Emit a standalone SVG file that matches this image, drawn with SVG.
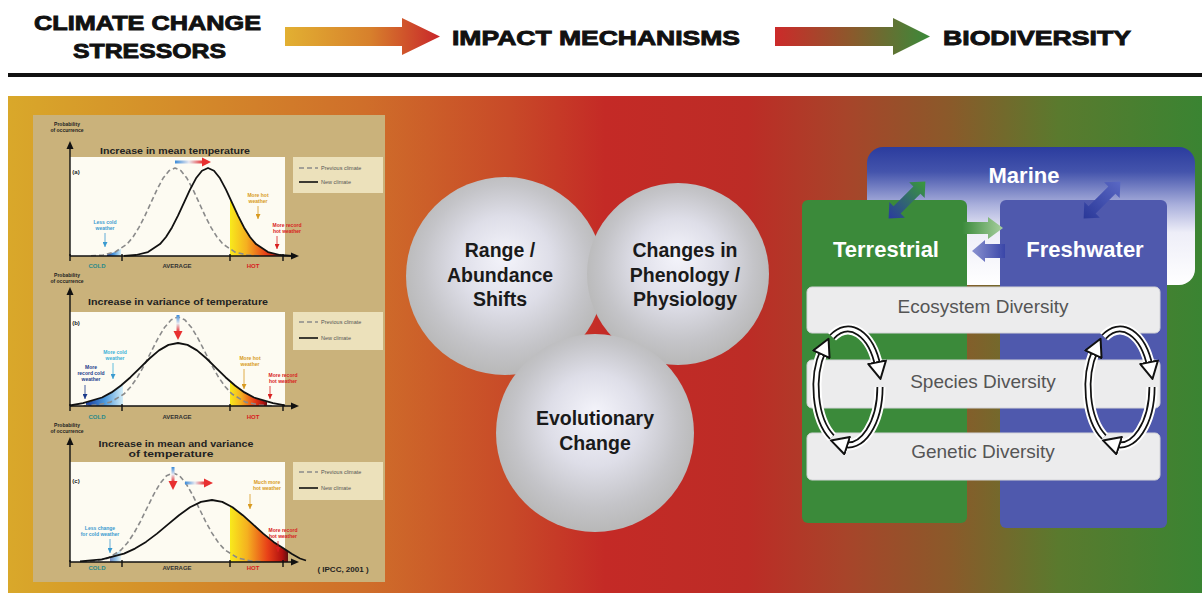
<svg xmlns="http://www.w3.org/2000/svg" width="1202" height="593" viewBox="0 0 1202 593">
<style>
.hdr{font-family:"Liberation Sans",Arial,sans-serif;font-weight:bold;font-size:21px;fill:#111;stroke:#111;stroke-width:0.9}
.ct{font-family:"Liberation Sans",Arial,sans-serif;font-weight:bold;font-size:8.5px;fill:#222;text-anchor:middle}
.pl{font-family:"Liberation Sans",Arial,sans-serif;font-weight:bold;font-size:5px;fill:#222;text-anchor:middle}
.ax{font-family:"Liberation Sans",Arial,sans-serif;font-weight:bold;font-size:6px;text-anchor:middle}
.ann{font-family:"Liberation Sans",Arial,sans-serif;font-weight:bold;font-size:5px;text-anchor:middle}
.lg{font-family:"Liberation Sans",Arial,sans-serif;font-size:5.5px;fill:#555}
.ball{font-family:"Liberation Sans",Arial,sans-serif;font-weight:bold;font-size:19.5px;fill:#1a1a1a;text-anchor:middle}
.box{font-family:"Liberation Sans",Arial,sans-serif;font-weight:bold;font-size:22px;fill:#fff;text-anchor:middle}
.strip{font-family:"Liberation Sans",Arial,sans-serif;font-size:19px;fill:#555;text-anchor:middle}
.prev{fill:none;stroke:#8a8a8a;stroke-width:1.6;stroke-dasharray:5 3;stroke-linejoin:round}
.new{fill:none;stroke:#111;stroke-width:1.8;stroke-linejoin:round}
.axis{stroke:#111;stroke-width:1.4;fill:none}
.plot{fill:#fdfbf2}
.leg{fill:#ece1bb}
.cyc-h{fill:none;stroke:#fff;stroke-width:11}
.cyc-b{fill:none;stroke:#111;stroke-width:7}
.cyc-w{fill:none;stroke:#fff;stroke-width:3.5}
.ballc{fill:url(#ball)}
.strp{fill:#ececed;stroke:#d4d4d8;stroke-width:1}
</style>
<defs>
<linearGradient id="bg" x1="0" y1="0" x2="1" y2="0">
<stop offset="0" stop-color="#d9a82a"/>
<stop offset="0.05" stop-color="#d79e2a"/>
<stop offset="0.3" stop-color="#cf6e2a"/>
<stop offset="0.42" stop-color="#c84a28"/>
<stop offset="0.5" stop-color="#c42a26"/>
<stop offset="0.62" stop-color="#bc2c26"/>
<stop offset="0.7" stop-color="#a8442a"/>
<stop offset="0.79" stop-color="#8a5a2a"/>
<stop offset="0.88" stop-color="#5a7a2e"/>
<stop offset="1" stop-color="#3a8432"/>
</linearGradient>
<linearGradient id="ar1" x1="0" y1="0" x2="1" y2="0">
<stop offset="0" stop-color="#e2b032"/>
<stop offset="0.55" stop-color="#d7802c"/>
<stop offset="1" stop-color="#c8262a"/>
</linearGradient>
<linearGradient id="ar2" x1="0" y1="0" x2="1" y2="0">
<stop offset="0" stop-color="#cc2a2a"/>
<stop offset="0.5" stop-color="#8a5a2c"/>
<stop offset="1" stop-color="#3a8a3a"/>
</linearGradient>
<linearGradient id="hot" x1="0" y1="0" x2="1" y2="0">
<stop offset="0" stop-color="#f8ea1c"/>
<stop offset="0.3" stop-color="#f5b020"/>
<stop offset="0.65" stop-color="#e84018"/>
<stop offset="0.9" stop-color="#b01010"/>
<stop offset="1" stop-color="#601010"/>
</linearGradient>
<linearGradient id="cold" x1="0" y1="0" x2="1" y2="0">
<stop offset="0" stop-color="#1a3a9a"/>
<stop offset="0.5" stop-color="#4a98dc"/>
<stop offset="1" stop-color="#d4eef8"/>
</linearGradient>
<linearGradient id="br" x1="0" y1="0" x2="1" y2="0">
<stop offset="0" stop-color="#3a8ad8"/>
<stop offset="0.5" stop-color="#e8e8f0"/>
<stop offset="1" stop-color="#e83030"/>
</linearGradient>
<linearGradient id="bv" x1="0" y1="0" x2="0" y2="1">
<stop offset="0" stop-color="#3a8ad8"/>
<stop offset="0.5" stop-color="#e8e8f0"/>
<stop offset="1" stop-color="#e83030"/>
</linearGradient>
<radialGradient id="ball" cx="50%" cy="47%" r="52%" fx="50%" fy="40%">
<stop offset="0" stop-color="#f4f4fb"/>
<stop offset="0.45" stop-color="#dedee8"/>
<stop offset="0.8" stop-color="#c4c4c8"/>
<stop offset="1" stop-color="#b9b9b9"/>
</radialGradient>
<linearGradient id="marine" x1="0" y1="0" x2="0" y2="1">
<stop offset="0" stop-color="#2b3c9e"/>
<stop offset="0.18" stop-color="#4454ac"/>
<stop offset="0.42" stop-color="#aab0dc"/>
<stop offset="0.62" stop-color="#eeeef8"/>
<stop offset="1" stop-color="#ffffff"/>
</linearGradient>
<linearGradient id="dgT" x1="0" y1="0" x2="1" y2="0">
<stop offset="0" stop-color="#2a3aa0"/>
<stop offset="1" stop-color="#3a9a3a"/>
</linearGradient>
<linearGradient id="dgF" x1="0" y1="0" x2="1" y2="0">
<stop offset="0" stop-color="#2a3898"/>
<stop offset="1" stop-color="#5a68c4"/>
</linearGradient>
<linearGradient id="gR" x1="0" y1="0" x2="1" y2="0">
<stop offset="0" stop-color="#3a8a3a"/>
<stop offset="1" stop-color="#a8d0a0"/>
</linearGradient>
<linearGradient id="bL" x1="0" y1="0" x2="1" y2="0">
<stop offset="0" stop-color="#8a92d0"/>
<stop offset="1" stop-color="#3a46a8"/>
</linearGradient>
<marker id="saB" markerWidth="5" markerHeight="5" viewBox="0 0 10 10" refX="10" refY="5" orient="auto" markerUnits="userSpaceOnUse"><path d="M0,0 L10,5 L0,10 Z" fill="#3a9ad0"/></marker>
<marker id="saO" markerWidth="5" markerHeight="5" viewBox="0 0 10 10" refX="10" refY="5" orient="auto" markerUnits="userSpaceOnUse"><path d="M0,0 L10,5 L0,10 Z" fill="#d89a20"/></marker>
<marker id="saR" markerWidth="5" markerHeight="5" viewBox="0 0 10 10" refX="10" refY="5" orient="auto" markerUnits="userSpaceOnUse"><path d="M0,0 L10,5 L0,10 Z" fill="#d82020"/></marker>
<marker id="saD" markerWidth="5" markerHeight="5" viewBox="0 0 10 10" refX="10" refY="5" orient="auto" markerUnits="userSpaceOnUse"><path d="M0,0 L10,5 L0,10 Z" fill="#1a3a8a"/></marker>
<marker id="cyc" markerWidth="20" markerHeight="20" viewBox="0 0 20 20" refX="6" refY="10" orient="auto" markerUnits="userSpaceOnUse"><path d="M1,1 L18,10 L1,19 Z" fill="#fff" stroke="#111" stroke-width="2" stroke-linejoin="round"/></marker>
<path id="dbl" d="M-26,0 L-14,-11 L-14,-5 L14,-5 L14,-11 L26,0 L14,11 L14,5 L-14,5 L-14,11 Z"/>
</defs>

<rect x="0" y="0" width="1202" height="593" fill="#fff"/>

<g id="header">
<text class="hdr" x="34" y="30" textLength="227" lengthAdjust="spacingAndGlyphs">CLIMATE CHANGE</text>
<text class="hdr" x="73" y="58" textLength="153" lengthAdjust="spacingAndGlyphs">STRESSORS</text>
<text class="hdr" x="452" y="45" textLength="288" lengthAdjust="spacingAndGlyphs">IMPACT MECHANISMS</text>
<text class="hdr" x="943" y="45" textLength="188" lengthAdjust="spacingAndGlyphs">BIODIVERSITY</text>
<rect x="8" y="73" width="1194" height="4" fill="#111"/>
</g>

<rect id="panel" x="8" y="96" width="1194" height="497" fill="url(#bg)"/>

<g id="charts">
<rect x="33" y="115" width="352" height="467" fill="#cab27b"/>
<g id="chart-a">
<text class="pl" x="67" y="126">Probability</text>
<text class="pl" x="67" y="132">of occurrence</text>
<text class="ct" x="175" y="154" textLength="150" lengthAdjust="spacingAndGlyphs">Increase in mean temperature</text>
<rect class="plot" x="70" y="157" width="215" height="99"/>
<rect class="leg" x="293" y="157" width="90" height="36"/>
<line x1="299" y1="168" x2="318" y2="168" class="prev"/>
<text class="lg" x="321" y="170">Previous climate</text>
<line x1="299" y1="182" x2="318" y2="182" stroke="#111" stroke-width="1.6"/>
<text class="lg" x="321" y="184">New climate</text>
<text class="ax" x="76" y="174" fill="#222">(a)</text>
<path d="M107,256 L107,254.6 L115,252.1 L121,248.7 L121,256 Z" fill="url(#cold)"/>
<path d="M230,256 L230,198.2 L232,202.6 L238,215.7 L244,227.4 L250,237 L256,244.1 L268,252.1 L280,255 L285,255.5 L285,256 Z" fill="url(#hot)"/>
<path class="prev" d="M91,255.8 L103,255 L115,252.1 L127,244.1 L133,237 L139,227.4 L145,215.7 L151,202.6 L157,189.6 L163,178.3 L169,170.7 L175,168 L181,170.7 L187,178.3 L193,189.6 L199,202.6 L205,215.7 L211,227.4 L217,237 L223,244.1 L235,252.1 L247,255 L259,255.8"/>
<path class="new" d="M124,255.8 L136,255 L148,252.1 L160,244.1 L166,237 L172,227.4 L178,215.7 L184,202.6 L190,189.6 L196,178.3 L202,170.7 L208,168 L214,170.7 L220,178.3 L226,189.6 L232,202.6 L238,215.7 L244,227.4 L250,237 L256,244.1 L268,252.1 L280,255 L292,255.8"/>
<rect x="175" y="160.5" width="28" height="3" fill="url(#br)"/>
<path d="M202,157.5 L211,162 L202,166.5 Z" fill="#e83030"/>
<line class="axis" x1="70" y1="256" x2="70" y2="147"/>
<path d="M66.5,149 L70,141 L73.5,149 Z" fill="#111"/>
<line class="axis" x1="70" y1="256" x2="293" y2="256"/>
<path d="M291,252.5 L299,256 L291,259.5 Z" fill="#111"/>
<path d="M70,254 V261 M122,254 V261 M230,254 V261 M283,254 V261" class="axis"/>
<text class="ax" x="97" y="268" fill="#2a8a8a">COLD</text>
<text class="ax" x="177" y="268" fill="#333">AVERAGE</text>
<text class="ax" x="253" y="268" fill="#d82020">HOT</text>
<text class="ann" x="105" y="224" fill="#3a9ad0">Less cold</text>
<text class="ann" x="105" y="230" fill="#3a9ad0">weather</text>
<line x1="105" y1="233" x2="105" y2="247" stroke="#3a9ad0" stroke-width="0.8" marker-end="url(#saB)"/>
<text class="ann" x="258" y="197" fill="#d89a20">More hot</text>
<text class="ann" x="258" y="203" fill="#d89a20">weather</text>
<line x1="258" y1="206" x2="258" y2="219" stroke="#d89a20" stroke-width="0.8" marker-end="url(#saO)"/>
<text class="ann" x="287" y="227" fill="#d82020">More record</text>
<text class="ann" x="287" y="233" fill="#d82020">hot weather</text>
<line x1="277" y1="236" x2="277" y2="249" stroke="#d82020" stroke-width="0.8" marker-end="url(#saR)"/>
</g>
<g id="chart-b">
<text class="pl" x="67" y="277">Probability</text>
<text class="pl" x="67" y="283">of occurrence</text>
<text class="ct" x="178" y="305" textLength="180" lengthAdjust="spacingAndGlyphs">Increase in variance of temperature</text>
<rect class="plot" x="70" y="312" width="215" height="94"/>
<rect class="leg" x="293" y="312" width="90" height="38"/>
<line x1="299" y1="322" x2="318" y2="322" class="prev"/>
<text class="lg" x="321" y="324">Previous climate</text>
<line x1="299" y1="338" x2="318" y2="338" stroke="#111" stroke-width="1.6"/>
<text class="lg" x="321" y="340">New climate</text>
<text class="ax" x="76" y="325" fill="#222">(b)</text>
<path d="M86,406 L86,402.7 L102,397.5 L111.5,392.4 L121,385.5 L123,384 L123,406 Z" fill="url(#cold)"/>
<path d="M230,406 L230,381.3 L235,385.5 L244.5,392.4 L254,397.5 L267,401.9 L267,406 Z" fill="url(#hot)"/>
<path class="prev" d="M83.5,405.8 L97,405 L110.5,402.1 L124,394 L130.75,386.8 L137.5,377.1 L144.25,365.3 L151,352 L157.75,338.8 L164.5,327.5 L171.25,319.7 L178,317 L184.75,319.7 L191.5,327.5 L198.25,338.8 L205,352 L211.75,365.3 L218.5,377.1 L225.25,386.8 L232,394 L245.5,402.1 L259,405 L272.5,405.8"/>
<path class="new" d="M70,405.5 L83,403.2 L102,397.5 L111.5,392.4 L121,385.5 L130.5,377.2 L140,367.8 L149.5,358.5 L159,350.4 L168.5,344.9 L178,343 L187.5,344.9 L197,350.4 L206.5,358.5 L216,367.8 L225.5,377.2 L235,385.5 L244.5,392.4 L254,397.5 L273,403.2 L285,405.3"/>
<rect x="176.5" y="315" width="3" height="17" fill="url(#bv)"/>
<path d="M173.5,331 L178,340 L182.5,331 Z" fill="#e83030"/>
<line class="axis" x1="70" y1="406" x2="70" y2="293"/>
<path d="M66.5,295 L70,287 L73.5,295 Z" fill="#111"/>
<line class="axis" x1="70" y1="406" x2="293" y2="406"/>
<path d="M291,402.5 L299,406 L291,409.5 Z" fill="#111"/>
<path d="M70,404 V411 M122,404 V411 M230,404 V411 M283,404 V411" class="axis"/>
<text class="ax" x="97" y="419" fill="#2a8a8a">COLD</text>
<text class="ax" x="177" y="419" fill="#333">AVERAGE</text>
<text class="ax" x="253" y="419" fill="#d82020">HOT</text>
<text class="ann" x="115" y="354" fill="#3ab0d8">More cold</text>
<text class="ann" x="115" y="360" fill="#3ab0d8">weather</text>
<line x1="113" y1="363" x2="113" y2="379" stroke="#3ab0d8" stroke-width="0.8" marker-end="url(#saB)"/>
<text class="ann" x="91" y="369" fill="#1a3a8a">More</text>
<text class="ann" x="91" y="375" fill="#1a3a8a">record cold</text>
<text class="ann" x="91" y="381" fill="#1a3a8a">weather</text>
<line x1="85" y1="385" x2="85" y2="399" stroke="#1a3a8a" stroke-width="0.8" marker-end="url(#saD)"/>
<text class="ann" x="250" y="360" fill="#d89a20">More hot</text>
<text class="ann" x="250" y="366" fill="#d89a20">weather</text>
<line x1="244" y1="369" x2="244" y2="389" stroke="#d89a20" stroke-width="0.8" marker-end="url(#saO)"/>
<text class="ann" x="283" y="377" fill="#d82020">More record</text>
<text class="ann" x="283" y="383" fill="#d82020">hot weather</text>
<line x1="270" y1="386" x2="270" y2="399" stroke="#d82020" stroke-width="0.8" marker-end="url(#saR)"/>
</g>
<g id="chart-c">
<text class="pl" x="67" y="427">Probability</text>
<text class="pl" x="67" y="433">of occurrence</text>
<text class="ct" x="176" y="447" textLength="155" lengthAdjust="spacingAndGlyphs">Increase in mean and variance</text>
<text class="ct" x="171" y="457" textLength="85" lengthAdjust="spacingAndGlyphs">of temperature</text>
<rect class="plot" x="70" y="462" width="215" height="100"/>
<rect class="leg" x="293" y="462" width="90" height="38"/>
<line x1="299" y1="472" x2="318" y2="472" class="prev"/>
<text class="lg" x="321" y="474">Previous climate</text>
<line x1="299" y1="488" x2="318" y2="488" stroke="#111" stroke-width="1.6"/>
<text class="lg" x="321" y="490">New climate</text>
<text class="ax" x="76" y="483" fill="#222">(c)</text>
<path d="M110,562 L110,557.5 L121,550 L121,562 Z" fill="url(#cold)" opacity="0.6"/>
<path d="M230,562 L230,505.7 L232.5,507.3 L242.75,515.2 L253,524.4 L263.25,533.6 L273.5,541.9 L283.75,548.6 L288,551.5 L288,562 Z" fill="url(#hot)"/>
<path class="prev" d="M82,561.8 L95,561 L108,558.1 L121,550 L127.5,542.8 L134,533.1 L140.5,521.3 L147,508 L153.5,494.8 L160,483.5 L166.5,475.7 L173,473 L179.5,475.7 L186,483.5 L192.5,494.8 L199,508 L205.5,521.3 L212,533.1 L218.5,542.8 L225,550 L238,558.1 L251,561 L264,561.8"/>
<path class="new" d="M80,561.3 L102,559.3 L124,553.6 L135,548.6 L146,541.9 L157,533.6 L168,524.4 L179,515.2 L190,507.3 L201,501.9 L212,500 L222.25,501.9 L232.5,507.3 L242.75,515.2 L253,524.4 L263.25,533.6 L273.5,541.9 L283.75,548.6 L292,554 L300,558.5 L306,560.5"/>
<rect x="171.5" y="467" width="3" height="15" fill="url(#bv)"/>
<path d="M168.5,481 L173,490 L177.5,481 Z" fill="#e83030"/>
<rect x="185" y="481.5" width="20" height="3" fill="url(#br)"/>
<path d="M204,478.5 L213,483 L204,487.5 Z" fill="#e83030"/>
<line class="axis" x1="70" y1="562" x2="70" y2="443"/>
<path d="M66.5,445 L70,437 L73.5,445 Z" fill="#111"/>
<line class="axis" x1="70" y1="562" x2="293" y2="562"/>
<path d="M291,558.5 L299,562 L291,565.5 Z" fill="#111"/>
<path d="M70,560 V567 M122,560 V567 M230,560 V567 M283,560 V567" class="axis"/>
<text class="ax" x="97" y="570" fill="#2a8a8a">COLD</text>
<text class="ax" x="177" y="570" fill="#333">AVERAGE</text>
<text class="ax" x="253" y="570" fill="#d82020">HOT</text>
<text class="ann" x="267" y="484" fill="#d89a20">Much more</text>
<text class="ann" x="267" y="490" fill="#d89a20">hot weather</text>
<line x1="250" y1="494" x2="250" y2="509" stroke="#d89a20" stroke-width="0.8" marker-end="url(#saO)"/>
<text class="ann" x="283" y="532" fill="#d82020">More record</text>
<text class="ann" x="283" y="538" fill="#d82020">hot weather</text>
<line x1="278" y1="541" x2="278" y2="552" stroke="#d82020" stroke-width="0.8" marker-end="url(#saR)"/>
<text class="ann" x="100" y="530" fill="#3a9ad0">Less change</text>
<text class="ann" x="100" y="536" fill="#3a9ad0">for cold weather</text>
<line x1="110" y1="539" x2="110" y2="553" stroke="#3a9ad0" stroke-width="0.8" marker-end="url(#saB)"/>
<text x="343" y="572" font-family="Liberation Sans, Arial, sans-serif" font-weight="bold" font-size="8" fill="#222" text-anchor="middle">( IPCC, 2001 )</text>
</g>
</g>

<g id="mechanisms">
<g id="range"><circle class="ballc" cx="505" cy="276" r="99"/></g>
<g id="phenology"><circle class="ballc" cx="678" cy="274" r="91"/></g>
<g id="evolution"><circle class="ballc" cx="595" cy="433" r="99"/></g>
<text class="ball" x="500" y="257">Range /</text>
<text class="ball" x="500" y="282">Abundance</text>
<text class="ball" x="500" y="306">Shifts</text>
<text class="ball" x="685" y="257">Changes in</text>
<text class="ball" x="685" y="282">Phenology /</text>
<text class="ball" x="685" y="306">Physiology</text>
<text class="ball" x="595" y="425">Evolutionary</text>
<text class="ball" x="595" y="450">Change</text>
</g>

<g id="biodiversity">
<g id="marine"><rect x="867" y="147" width="328" height="138" rx="16" fill="url(#marine)"/>
<text class="box" x="1024" y="183">Marine</text></g>
<g id="terrestrial"><rect x="802" y="200" width="165" height="323" rx="6" fill="#3b8a3a"/>
<text class="box" x="886" y="257">Terrestrial</text></g>
<g id="freshwater"><rect x="1000" y="200" width="167" height="328" rx="6" fill="#4f59ad"/>
<text class="box" x="1085" y="257">Freshwater</text></g>
<g id="ecosystem"><rect class="strp" x="807" y="287" width="353" height="46" rx="5"/>
<text class="strip" x="983" y="313">Ecosystem Diversity</text></g>
<g id="species"><rect class="strp" x="807" y="360" width="353" height="48" rx="5"/>
<text class="strip" x="983" y="388">Species Diversity</text></g>
<g id="genetic"><rect class="strp" x="807" y="433" width="353" height="47" rx="5"/>
<text class="strip" x="983" y="458">Genetic Diversity</text></g>
</g>

<g id="connectors">
<path d="M285,27 L402,27 L402,18 L440,36.5 L402,55 L402,46 L285,46 Z" fill="url(#ar1)"/>
<path d="M775,27 L893,27 L893,18 L930,36.5 L893,55 L893,46 L775,46 Z" fill="url(#ar2)"/>
<use href="#dbl" transform="translate(907,200) rotate(-45)" fill="url(#dgT)"/>
<use href="#dbl" transform="translate(1102,200) rotate(-45)" fill="url(#dgF)"/>
<path d="M962,222 L988,222 L988,217 L1003,228 L988,239 L988,234 L962,234 Z" fill="url(#gR)"/>
<path d="M972,251 L985,240 L985,244 L1005,244 L1005,258 L985,258 L985,262 Z" fill="url(#bL)"/>
<g id="cycle-left">
<path class="cyc-h" d="M832,437.2 A32,58 0 0 1 823.5,349.7"/>
<path class="cyc-h" d="M832,336.8 A32,58 0 0 1 878.1,367.2"/>
<path class="cyc-h" d="M880,387 A32,58 0 0 1 842.4,444.1"/>
<path class="cyc-b" d="M832,437.2 A32,58 0 0 1 823.5,349.7"/>
<path class="cyc-b" d="M832,336.8 A32,58 0 0 1 878.1,367.2"/>
<path class="cyc-b" d="M880,387 A32,58 0 0 1 842.4,444.1"/>
<path class="cyc-w" d="M832,437.2 A32,58 0 0 1 823.5,349.7" marker-end="url(#cyc)"/>
<path class="cyc-w" d="M832,336.8 A32,58 0 0 1 878.1,367.2" marker-end="url(#cyc)"/>
<path class="cyc-w" d="M880,387 A32,58 0 0 1 842.4,444.1" marker-end="url(#cyc)"/>
</g>
<g id="cycle-right">
<path class="cyc-h" d="M1104,437.2 A32,58 0 0 1 1095.5,349.7"/>
<path class="cyc-h" d="M1104,336.8 A32,58 0 0 1 1150.1,367.2"/>
<path class="cyc-h" d="M1152,387 A32,58 0 0 1 1114.4,444.1"/>
<path class="cyc-b" d="M1104,437.2 A32,58 0 0 1 1095.5,349.7"/>
<path class="cyc-b" d="M1104,336.8 A32,58 0 0 1 1150.1,367.2"/>
<path class="cyc-b" d="M1152,387 A32,58 0 0 1 1114.4,444.1"/>
<path class="cyc-w" d="M1104,437.2 A32,58 0 0 1 1095.5,349.7" marker-end="url(#cyc)"/>
<path class="cyc-w" d="M1104,336.8 A32,58 0 0 1 1150.1,367.2" marker-end="url(#cyc)"/>
<path class="cyc-w" d="M1152,387 A32,58 0 0 1 1114.4,444.1" marker-end="url(#cyc)"/>
</g>
</g>
</svg>
